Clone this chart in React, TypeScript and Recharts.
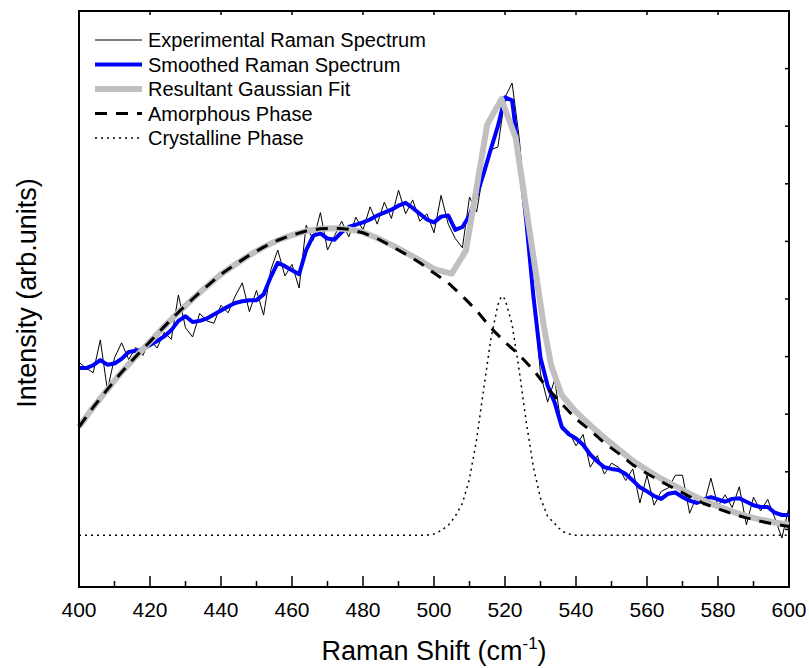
import { LineChart, Line, XAxis, YAxis } from 'recharts'

// Raman shift axis (cm^-1), sampled every 2 units for the measured spectrum
const shiftX = [
  400, 402, 404, 406, 408, 410, 412, 414, 416, 418, 420, 422, 424, 426, 428, 430, 432, 434, 436, 438,
  440, 442, 444, 446, 448, 450, 452, 454, 456, 458, 460, 462, 464, 466, 468, 470, 472, 474, 476, 478,
  480, 482, 484, 486, 488, 490, 492, 494, 496, 498, 500, 502, 504, 506, 508, 510, 512, 514, 516, 518,
  520, 522, 524, 526, 528, 530, 532, 534, 536, 538, 540, 542, 544, 546, 548, 550, 552, 554, 556, 558,
  560, 562, 564, 566, 568, 570, 572, 574, 576, 578, 580, 582, 584, 586, 588, 590, 592, 594, 596, 598, 600,
]

const experimental = [
  39.0, 38.0, 37.2, 42.9, 34.2, 39.8, 42.4, 39.5, 41.6, 40.2, 43.0, 41.5, 44.2, 43.0, 50.7, 45.0, 43.4, 47.5, 46.2, 45.8,
  48.9, 47.6, 50.5, 52.8, 47.8, 51.5, 47.2, 55.0, 58.5, 54.0, 56.0, 51.9, 62.8, 60.2, 65.0, 58.5, 61.0, 63.5, 60.8, 64.2,
  62.0, 66.0, 63.0, 66.8, 64.0, 68.9, 64.8, 67.2, 63.5, 64.8, 61.5, 68.0, 63.0, 60.5, 58.9, 67.7, 65.1, 72.5, 75.9, 76.4,
  85.0, 87.5, 78.0, 64.0, 51.0, 37.0, 32.1, 36.0, 27.3, 27.0, 24.5, 26.5, 20.8, 22.8, 19.6, 21.5, 20.8, 18.5, 20.5, 14.6,
  19.4, 14.2, 16.6, 17.2, 19.4, 19.4, 12.8, 15.8, 14.2, 18.9, 14.0, 16.0, 13.8, 17.4, 10.8, 15.6, 13.2, 15.2, 12.0, 8.5, 13.9,
]

const smoothed = [
  38.0, 38.0, 38.5, 39.4, 38.6, 38.8, 39.6, 40.8, 41.0, 41.3, 42.0, 42.7, 43.5, 44.6, 46.2, 47.0, 46.0, 46.2, 46.6, 47.3,
  48.0, 48.7, 49.3, 49.6, 49.8, 49.8, 50.8, 53.8, 56.3, 55.7, 55.0, 54.3, 58.5, 61.0, 61.4, 60.5, 60.3, 61.6, 62.5, 62.9,
  63.3, 63.8, 64.5, 65.0, 65.5, 66.2, 66.7, 65.8, 64.8, 63.8, 63.3, 64.3, 64.5, 62.0, 62.5, 64.5, 68.0, 71.8, 76.0, 80.0,
  85.0, 84.5, 74.5, 63.5, 50.5, 39.8, 35.0, 32.0, 27.8, 26.5, 25.8, 24.7, 23.0, 21.8, 20.8, 20.5, 20.3, 19.6, 18.5, 17.3,
  16.6, 15.8, 15.3, 16.2, 16.4, 15.6, 15.0, 14.6, 15.2, 15.6, 15.2, 14.8, 15.3, 15.4, 14.8, 14.2, 13.9, 13.9, 12.9, 12.5, 12.5,
]

// resultant gaussian fit
const fitX = [
  400, 404, 408, 412, 416, 420, 424, 428, 432, 436, 440, 444, 448, 452, 456, 460, 464, 468, 472, 476,
  480, 484, 488, 492, 496, 500, 505, 509, 515, 519, 523, 531, 533, 536, 540, 544, 548, 552, 556, 560,
  564, 568, 572, 576, 580, 584, 588, 592, 596, 600,
]
const fit = [
  27.8, 31.2, 34.3, 37.3, 40.0, 42.6, 45.2, 47.7, 50.0, 52.2, 54.3, 56.0, 57.6, 59.0, 60.2, 61.1, 61.8, 62.2, 62.3, 62.1,
  61.6, 60.6, 59.4, 58.1, 56.7, 55.2, 54.4, 58.4, 80.3, 84.7, 78.0, 45.0, 38.5, 33.3, 30.4, 28.1, 25.9, 23.9, 21.9, 20.3,
  18.8, 17.5, 16.2, 15.0, 14.0, 13.1, 12.3, 11.7, 11.2, 10.8,
]

// amorphous phase component
const amorphX = [
  400, 404, 408, 412, 416, 420, 424, 428, 432, 436, 440, 444, 448, 452, 456, 460, 464, 468, 472, 476,
  480, 484, 488, 492, 496, 500, 504, 508, 512, 516, 520, 524, 528, 532, 536, 540, 544, 548, 552, 556,
  560, 564, 568, 572, 576, 580, 584, 588, 592, 596, 600,
]
const amorphous = [
  27.8, 31.2, 34.3, 37.3, 40.0, 42.6, 45.2, 47.7, 50.0, 52.2, 54.3, 56.0, 57.6, 59.0, 60.2, 61.1, 61.8, 62.2, 62.3, 62.1,
  61.5, 60.5, 59.2, 57.8, 56.3, 54.5, 52.8, 50.5, 48.0, 45.0, 42.5, 40.3, 37.7, 34.5, 31.8, 29.2, 27.2, 25.0, 23.2, 21.2,
  19.7, 18.3, 17.0, 15.7, 14.5, 13.6, 12.7, 12.0, 11.4, 10.9, 10.5,
]

// crystalline phase component
const crystX = [
  400, 498, 500, 502, 504, 506, 508, 510, 512, 514, 516, 518, 519, 520, 522, 524, 526, 528, 530, 532,
  534, 536, 538, 540, 600,
]
const crystalline = [
  9.0, 9.0, 9.2, 9.8, 10.7, 12.3, 14.5, 18.8, 25.6, 34.4, 43.0, 49.0, 50.5, 50.0, 45.6, 37.6, 28.6, 20.8, 15.4, 12.3,
  11.0, 9.7, 9.2, 9.0, 9.0,
]

const xTicks = [400, 410, 420, 430, 440, 450, 460, 470, 480, 490, 500, 510, 520, 530, 540, 550, 560, 570, 580, 590, 600]
const topTicks = [420, 440, 460, 480, 500, 520, 540, 560, 580]
const leftTicks = [0, 1, 2, 3, 4, 5, 6, 7, 8, 9, 10]
const rightTicks = [10, 20, 30, 40, 50, 60, 70, 80, 90]

const X_DOMAIN = [400, 600]
const Y_DOMAIN = [0, 100]

// plot box in page pixels (chart sits at 0,0)
const BOX = { left: 79, right: 789, top: 11, bottom: 587 }
const px = (v: number) => BOX.left + ((v - X_DOMAIN[0]) / (X_DOMAIN[1] - X_DOMAIN[0])) * (BOX.right - BOX.left)
const py = (v: number) => BOX.bottom - ((v - Y_DOMAIN[0]) / (Y_DOMAIN[1] - Y_DOMAIN[0])) * (BOX.bottom - BOX.top)

const rows = (xs: number[], ys: number[]) => xs.map((x, i) => ({ x, y: ys[i] }))

const FONT = '"Liberation Sans", Arial, sans-serif'

const series = [
  { name: 'Experimental Raman Spectrum', rows: rows(shiftX, experimental), stroke: '#000000', width: 1, dash: undefined },
  { name: 'Smoothed Raman Spectrum', rows: rows(shiftX, smoothed), stroke: '#0000ff', width: 4, dash: undefined },
  { name: 'Resultant Gaussian Fit', rows: rows(fitX, fit), stroke: '#c0c0c0', width: 6, dash: undefined },
  { name: 'Amorphous Phase', rows: rows(amorphX, amorphous), stroke: '#000000', width: 3, dash: '12 9' },
  { name: 'Crystalline Phase', rows: rows(crystX, crystalline), stroke: '#000000', width: 1.5, dash: '2 4' },
]

const BottomTick = ({ x, y, payload }: any) => {
  const major = payload.value % 20 === 0
  return (
    <g>
      <line x1={x} x2={x} y1={y} y2={y - (major ? 11 : 6)} stroke="#000" strokeWidth={1.5} />
      {major && (
        <text x={x} y={y + 30} textAnchor="middle" fontSize={21} fontFamily={FONT} fill="#000">
          {payload.value}
        </text>
      )}
    </g>
  )
}

const LeftTick = ({ x, y }: any) => <line x1={x} x2={x + 4} y1={y} y2={y} stroke="#000" strokeWidth={1.5} />

export default function App() {
  return (
    <div style={{ position: 'absolute', left: 0, top: 0 }}>
      <LineChart width={809} height={668} margin={{ top: BOX.top, right: 809 - BOX.right, left: 0, bottom: 0 }}>
        <XAxis
          xAxisId="B"
          dataKey="x"
          type="number"
          domain={X_DOMAIN}
          ticks={xTicks}
          interval={0}
          height={668 - BOX.bottom}
          tickSize={0}
          tickMargin={0}
          tickLine={false}
          axisLine={{ stroke: '#000', strokeWidth: 2 }}
          tick={<BottomTick />}
        />
        <YAxis
          yAxisId="L"
          type="number"
          domain={[-1.04, 10.04]}
          ticks={leftTicks}
          interval={0}
          width={BOX.left}
          tickSize={0}
          tickMargin={0}
          tickLine={false}
          axisLine={{ stroke: '#000', strokeWidth: 2 }}
          tick={<LeftTick />}
        />
        <YAxis yAxisId="R" type="number" domain={Y_DOMAIN} hide />

        {series.map((s) => (
          <Line
            key={s.name}
            xAxisId="B"
            yAxisId="R"
            data={s.rows}
            dataKey="y"
            name={s.name}
            type="linear"
            stroke={s.stroke}
            strokeWidth={s.width}
            strokeDasharray={s.dash}
            strokeLinejoin="round"
            dot={false}
            activeDot={false}
            isAnimationActive={false}
          />
        ))}

        {/* frame box with small inner ticks on the top and right edges */}
        <rect
          x={BOX.left}
          y={BOX.top}
          width={BOX.right - BOX.left}
          height={BOX.bottom - BOX.top}
          fill="none"
          stroke="#000000"
          strokeWidth={2}
        />
        {topTicks.map((t) => (
          <line key={`t${t}`} x1={px(t)} x2={px(t)} y1={BOX.top} y2={BOX.top + 4} stroke="#000000" strokeWidth={1.5} />
        ))}
        {rightTicks.map((t) => (
          <line key={`r${t}`} x1={BOX.right - 4} x2={BOX.right} y1={py(t)} y2={py(t)} stroke="#000000" strokeWidth={1.5} />
        ))}

        {/* legend, top-left inside the frame */}
        <g fontFamily={FONT} fontSize={20} fill="#000">
          {series.map((s, i) => (
            <g key={s.name} transform={`translate(95, ${40 + i * 24.5})`}>
              <line x1={0} x2={47} y1={0} y2={0} stroke={s.stroke} strokeWidth={s.width} strokeDasharray={s.dash} />
              <text x={53} y={7}>{s.name}</text>
            </g>
          ))}
        </g>

        <text x={434} y={660} textAnchor="middle" fontFamily={FONT} fontSize={27} fill="#000">
          Raman Shift (cm
          <tspan dy={-11} fontSize={17}>-1</tspan>
          <tspan dy={11}>)</tspan>
        </text>
        <text
          transform="translate(36, 293) rotate(-90)"
          textAnchor="middle"
          fontFamily={FONT}
          fontSize={27}
          fill="#000"
        >
          Intensity (arb.units)
        </text>
      </LineChart>
    </div>
  )
}
